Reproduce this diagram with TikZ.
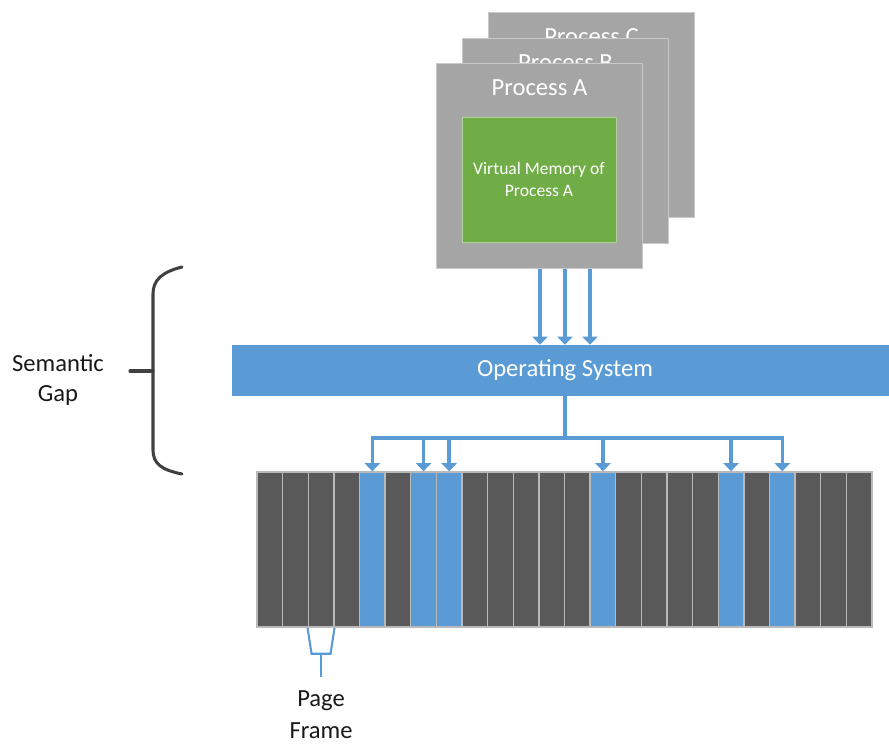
\documentclass[tikz,border=0pt]{standalone}
\usepackage{fontspec}
\setmainfont{Carlito}
\usetikzlibrary{arrows.meta, positioning, calc}
\definecolor{procgray}{HTML}{A5A5A5}
\definecolor{vmgreen}{HTML}{70AD47}
\definecolor{osblue}{HTML}{5B9BD5}
\definecolor{framedark}{HTML}{595959}
\definecolor{braceink}{HTML}{404040}
\newcommand{\px}{0.03cm}

\begin{document}
\begin{tikzpicture}[x=\px, y=-\px]
\tikzstyle{process}=[rectangle, fill=procgray, draw=procgray!60!white, line width=0.8pt, minimum width=206*\px, minimum height=205*\px, anchor=north west, inner sep=0]
\tikzstyle{proctitle}=[text=white, font=\fontsize{21}{25}\selectfont, inner sep=0]
\tikzstyle{vmem}=[rectangle, fill=vmgreen, draw=vmgreen!55!white, line width=0.8pt, minimum width=154*\px, minimum height=125*\px, text=white, align=center, font=\fontsize{15}{19}\selectfont]
\tikzstyle{osbar}=[rectangle, fill=osblue, minimum width=666*\px, minimum height=51*\px, text=white, font=\fontsize{21}{25}\selectfont]
\tikzstyle{pageframe}=[rectangle, draw=gray!55, line width=1.2pt, minimum width=25.625*\px, minimum height=155*\px, inner sep=0]
\tikzstyle{flow}=[-{Triangle[width=13pt,length=7pt]}, draw=osblue, line width=2.9pt]
\tikzstyle{link}=[draw=osblue, line width=2.9pt]
\tikzstyle{note}=[align=center, text=black!90, font=\fontsize{21}{25}\selectfont]
\tikzstyle{brace}=[draw=braceink, line width=2.6pt, line cap=round]
\tikzstyle{pfbracket}=[draw=osblue, line width=1.8pt]

\useasboundingbox (0,0) rectangle (889,744);

% processes, back to front
\node[process] (procC) at (488,12) {};
\node[proctitle] (procCtitle) at ([yshift=-25*\px]procC.north) {Process C};
\node[process] (procB) at (462,38) {};
\node[proctitle] (procBtitle) at ([yshift=-25*\px]procB.north) {Process B};
\node[process] (procA) at (436,63) {};
\node[proctitle] (procAtitle) at ([yshift=-25*\px]procA.north) {Process A};
\node[vmem] (vm) at (539,179.5) {Virtual Memory of\\Process A};

% operating system
\node[osbar] (os) at (565,370.5) {Operating System};
\foreach \x in {540,565,590}
  \draw[flow] (procA.south -| \x,0) -- (os.north -| \x,0);

% physical page frames
\foreach \i in {0,...,23}{
  \gdef\framecol{framedark}
  \foreach \j in {4,6,7,13,18,20}{\ifnum\i=\j\gdef\framecol{osblue}\fi}
  \node[pageframe, fill=\framecol] (f\i) at (269.8+25.625*\i,549.5) {};
}

\coordinate (bus) at (565,438);
\draw[link] (os.south) -- (bus);
\draw[flow] (bus) -| (f4.north);
\draw[flow] (bus) -| (f20.north);
\foreach \i in {6,7,13,18}
  \draw[flow] (f\i.north |- bus) -- (f\i.north);

% page frame label
\coordinate (pfstem) at ($(f2.south)+(0,26)$);
\draw[pfbracket] (f2.south west) -- ($(f2.south west |- pfstem)+(4,0)$) -- ($(f2.south east |- pfstem)+(-4,0)$) -- (f2.south east);
\node[note, font=\fontsize{21}{27}\selectfont] (pflabel) [below=1.0cm of pfstem] {Page\\Frame};
\draw[pfbracket] (pfstem) -- ([yshift=10*\px]pflabel.north);

% semantic gap
\node[note] (gap) at (58,380) {Semantic\\Gap};
\draw[brace] (182,267) .. controls (162,272) and (153,280) .. (153,294) -- (153,450) .. controls (153,464) and (162,470) .. (182,474);
\draw[brace] (130,371) -- (153,371);
\end{tikzpicture}
\end{document}
